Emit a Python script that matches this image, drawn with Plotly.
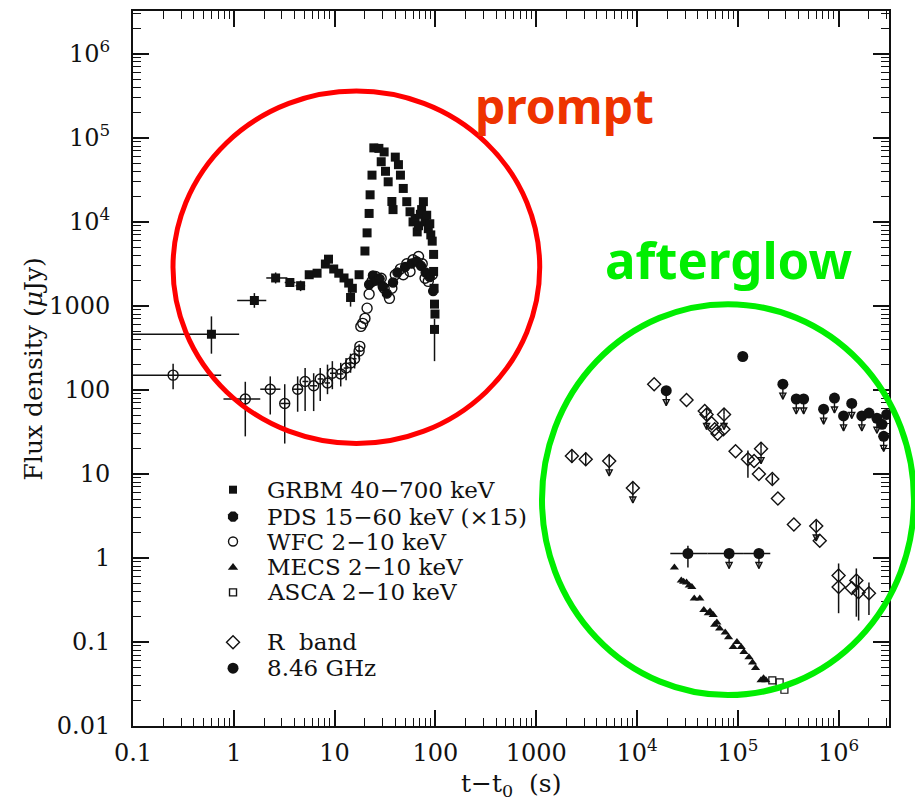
import numpy as np
import plotly.graph_objects as go

# ---------------- data (t - t0 in s, flux density in microJy) ----------------
# GRBM 40-700 keV (filled squares)
grbm_t = [5.6, 6.7, 8.1, 8.7, 9.8, 11, 12.4, 13.8, 15, 17.5,
          20, 21, 22, 22.5, 23.5, 24.5, 27.5, 31, 29, 32, 34, 37, 38, 40, 43, 45, 48, 52,
          56, 60, 63, 66, 68, 71, 73, 76, 79, 82, 85, 88, 90, 93, 96, 96, 97, 98, 99]
grbm_f = [2350, 2450, 3150, 3600, 2750, 2450, 2150, 1870, 1620, 2350,
          4500, 7400, 12600, 21000, 36000, 76000, 75000, 68000, 52000, 40000, 30000, 17500, 14000,
          59000, 48000, 36000, 25000, 17400,
          13200, 10000, 11000, 7600, 9000, 12300, 14000, 17400, 10000, 12000, 8300, 9500, 7000,
          5900, 4100, 2570, 1620, 1050, 800]
grbm_eb_t = [0.6, 1.6, 2.6, 3.6, 4.6, 14.4, 98]
grbm_eb_f = [460, 1160, 2150, 1900, 1740, 1260, 525]
grbm_eb_tlo = [0.1, 1.08, 2.1, 3.2, 4.1, 14.4, 98]
grbm_eb_thi = [1.13, 2.1, 3.4, 4.1, 5.1, 14.4, 98]
grbm_eb_flo = [270, 950, 1850, 1700, 1500, 980, 220]
grbm_eb_fhi = [750, 1420, 2500, 2150, 2000, 1500, 700]

# PDS 15-60 keV (x15) (filled circles)
pds_t = [22, 24, 26, 28, 30, 33, 38, 42, 50, 58, 65, 72, 80, 88, 95]
pds_f = [1800, 2300, 2000, 2100, 1700, 1400, 1900, 2500, 2900, 3200, 3400, 3000, 2500, 2200, 1500]
pds_ag_t = [32000, 82000, 162000]
pds_ag_f = [1.13, 1.13, 1.13]
pds_ag_tlo = [21400, 50000, 115000]
pds_ag_thi = [50000, 115000, 210000]
pds_ag_flo = [0.77, 1.13, 1.13]
pds_ag_fhi = [1.40, 1.13, 1.13]
pds_ag_ul = [0, 1, 1]

# WFC 2-10 keV (open circles)
wfc_t = [17.8, 18.2, 19, 20, 21, 22, 23.5, 25.5, 29, 31, 35, 37, 40, 45, 48, 52, 56, 60, 68, 74, 79, 85, 93]
wfc_f = [330, 570, 620, 710, 940, 1380, 1960, 2240, 2130, 1620, 1230, 1620, 2350, 2760, 2350, 3170,
         2570, 3540, 3880, 3170, 2130, 1960, 2350]
wfc_eb_t = [0.25, 1.3, 2.3, 3.2, 4.3, 5.1, 6.2, 7.2, 8.5, 9.5, 11.5, 13, 14.4, 15.8, 17.5]
wfc_eb_f = [150, 78, 102, 69, 102, 126, 112, 135, 121, 158, 155, 182, 210, 235, 290]
wfc_eb_tlo = [0.1, 0.79, 1.83, 2.9, 3.8, 4.8, 5.7, 6.8, 8.0, 9.0, 10.8, 12.3, 13.7, 15.1, 16.8]
wfc_eb_thi = [0.75, 1.83, 2.9, 3.6, 4.8, 5.5, 6.7, 7.7, 9.0, 10.2, 12.2, 13.7, 15.1, 16.5, 18.2]
wfc_eb_flo = [102, 28, 51, 23, 55, 56, 56, 74, 89, 102, 110, 130, 160, 180, 230]
wfc_eb_fhi = [205, 125, 145, 117, 145, 182, 158, 182, 200, 220, 210, 240, 270, 290, 350]

# MECS 2-10 keV (filled triangles)
mecs_t = [23500, 27500, 29000, 31000, 33000, 35000, 37000, 42000, 46000, 51000, 53000, 57000, 59000,
          62000, 66000, 75000, 81000, 90000, 98000, 108000, 115000, 129000, 140000, 150000, 170000,
          180000, 190000]
mecs_f = [0.77, 0.54, 0.52, 0.51, 0.47, 0.45, 0.33, 0.33, 0.24, 0.22, 0.23, 0.21, 0.16, 0.17, 0.145,
          0.13, 0.114, 0.087, 0.10, 0.087, 0.076, 0.066, 0.057, 0.049, 0.035, 0.037, 0.035]

# ASCA 2-10 keV (open squares)
asca_t = [220000, 260000, 290000]
asca_f = [0.035, 0.033, 0.027]

# R band (open diamonds)
r_t = [2260, 3100, 5300, 9100, 14800, 31000, 47000, 49000, 55000, 59000, 63000, 72000, 73000, 95000,
       126000, 145000, 162000, 170000, 220000, 250000, 360000, 600000, 650000, 1.0e6, 1.0e6, 1.35e6,
       1.5e6, 1.58e6, 2.0e6]
r_f = [16.4, 15, 14.3, 6.8, 117, 76, 56, 51, 40, 34, 30, 34, 51, 18.6, 15, 14.3, 10, 20, 8.7, 5.1,
       2.5, 2.4, 1.6, 0.62, 0.45, 0.44, 0.54, 0.39, 0.38]
r_flo = [13.5, 12.5, 14.3, 6.8, 117, 76, 56, 51, 40, 34, 30, 34, 51, 18.6, 9, 14.3, 10, 20, 7.5, 5.1,
         2.5, 2.4, 1.6, 0.62, 0.22, 0.44, 0.20, 0.18, 0.21]
r_fhi = [19.5, 18, 17, 8, 117, 76, 56, 60, 40, 34, 30, 34, 60, 18.6, 19, 14.3, 10, 24, 10, 5.1,
         2.5, 2.8, 1.6, 0.62, 0.86, 0.44, 0.75, 0.60, 0.51]
r_ul = [0, 0, 1, 1, 0, 0, 0, 1, 0, 0, 0, 0, 1, 0, 0, 0, 0, 1, 0, 0, 0, 1, 0, 0, 0, 0, 0, 0, 0]

# 8.46 GHz (filled circles)
radio_t = [19500, 112000, 280000, 380000, 450000, 710000, 910000, 1.12e6, 1.35e6, 1.7e6, 2.0e6,
           2.4e6, 2.7e6, 3.0e6, 2.8e6]
radio_f = [98, 250, 117, 78, 78, 59, 80, 49, 69, 49, 53, 46, 39, 51, 28]
radio_ul = [1, 0, 1, 1, 1, 1, 1, 1, 1, 1, 0, 1, 0, 0, 1]

# axis ticks
x_tickvals = [0.1, 1, 10, 100, 1000, 1e4, 1e5, 1e6]
x_ticktext = ["0.1", "1", "10", "100", "1000", "10<sup>4</sup>", "10<sup>5</sup>", "10<sup>6</sup>"]
y_tickvals = [0.01, 0.1, 1, 10, 100, 1000, 1e4, 1e5, 1e6]
y_ticktext = ["0.01", "0.1", "1", "10", "100", "1000", "10<sup>4</sup>", "10<sup>5</sup>", "10<sup>6</sup>"]

# legend
leg_labels = ["GRBM 40\u2212700 keV", "PDS 15\u221260 keV (\u00d715)", "WFC 2\u221210 keV",
              "MECS 2\u221210 keV", "ASCA 2\u221210 keV", "R\u00a0\u00a0band", "8.46 GHz"]
leg_symbols = ["square", "octagon", "circle-open", "triangle-up", "square-open", "diamond-open", "circle"]
leg_sizes = [8, 11, 9, 9, 7, 10, 11]
leg_rows = [0.3305, 0.2929, 0.2580, 0.2218, 0.1869, 0.1172, 0.0809]

# ---------------- figure ----------------
FONT = "DejaVu Serif"
BLACK = "#111111"
UL_DROP = 10 ** (-15 / 84.25)   # upper-limit arrow length: ~15 px on this y scale


def err(v, lo, hi):
    return dict(type="data", symmetric=False,
                array=[h - x for x, h in zip(v, hi)],
                arrayminus=[x - l for x, l in zip(v, lo)],
                color=BLACK, thickness=1.5, width=0)


fig = go.Figure()


def pts(x, y, symbol, size, ex=None, ey=None, lw=1.4):
    fig.add_trace(go.Scatter(
        x=x, y=y, mode="markers", showlegend=False,
        marker=dict(symbol=symbol, size=size, color=BLACK, line=dict(color=BLACK, width=lw)),
        error_x=ex, error_y=ey))


def upper_limits(t, f, ul):
    xs = [a for a, u in zip(t, ul) if u]
    ys = [b for b, u in zip(f, ul) if u]
    if not xs:
        return
    # stem from the point down to the arrow tip
    fig.add_trace(go.Scatter(
        x=xs, y=ys, mode="markers", showlegend=False, marker=dict(size=1, opacity=0),
        error_y=dict(type="data", symmetric=False, array=[0] * len(ys),
                     arrayminus=[b - b * UL_DROP for b in ys],
                     color=BLACK, thickness=1.4, width=0)))
    # arrow heads
    fig.add_trace(go.Scatter(
        x=xs, y=[b * UL_DROP for b in ys], mode="markers", showlegend=False,
        marker=dict(symbol="arrow-down-open", size=6, color=BLACK,
                    line=dict(color=BLACK, width=1.4))))


# prompt
pts(wfc_eb_t, wfc_eb_f, "circle-open", 10,
    err(wfc_eb_t, wfc_eb_tlo, wfc_eb_thi), err(wfc_eb_f, wfc_eb_flo, wfc_eb_fhi))
pts(wfc_t, wfc_f, "circle-open", 10)
pts(pds_t, pds_f, "circle", 9)
pts(grbm_t, grbm_f, "square", 9, lw=0)
pts(grbm_eb_t, grbm_eb_f, "square", 9,
    err(grbm_eb_t, grbm_eb_tlo, grbm_eb_thi), err(grbm_eb_f, grbm_eb_flo, grbm_eb_fhi), lw=0)

# afterglow
upper_limits(pds_ag_t, pds_ag_f, pds_ag_ul)
upper_limits(r_t, r_f, r_ul)
upper_limits(radio_t, radio_f, radio_ul)
pts(pds_ag_t, pds_ag_f, "circle", 11,
    err(pds_ag_t, pds_ag_tlo, pds_ag_thi), err(pds_ag_f, pds_ag_flo, pds_ag_fhi), lw=0)
pts(mecs_t, mecs_f, "triangle-up", 8, lw=0)
pts(asca_t, asca_f, "square-open", 7, lw=1.2)
pts(r_t, r_f, "diamond-open", 10, None, err(r_f, r_flo, r_fhi), lw=1.4)
pts(radio_t, radio_f, "circle", 11, lw=0)

# legend markers on an overlay (paper-like) axis pair
for sym, sz, yy in zip(leg_symbols, leg_sizes, leg_rows):
    fig.add_trace(go.Scatter(
        x=[0.1323], y=[yy], xaxis="x2", yaxis="y2", mode="markers", showlegend=False,
        marker=dict(symbol=sym, size=sz, color=BLACK,
                    line=dict(color=BLACK, width=1.4 if "open" in sym else 0))))

annotations = []
# legend text
for lab, yy in zip(leg_labels, leg_rows):
    annotations.append(dict(x=0.1746, y=yy, xref="paper", yref="paper", text=lab,
                            showarrow=False, xanchor="left", yanchor="middle",
                            font=dict(family=FONT, size=23, color=BLACK)))

# axis titles
annotations.append(dict(x=-0.132, y=0.499, xref="paper", yref="paper",
                        text="Flux density (<i>\u03bc</i>Jy)", textangle=-90, showarrow=False,
                        xanchor="center", yanchor="middle",
                        font=dict(family=FONT, size=25, color=BLACK)))
annotations.append(dict(x=0.5, y=-0.082, xref="paper", yref="paper",
                        text="t\u2212t<sub>0</sub>\u00a0\u00a0(s)", showarrow=False,
                        xanchor="center", yanchor="middle",
                        font=dict(family=FONT, size=25, color=BLACK)))

# region labels
annotations.append(dict(x=0.571, y=0.8675, xref="paper", yref="paper", text="<b>prompt</b>",
                        showarrow=False, xanchor="center", yanchor="middle",
                        font=dict(family="Noto Sans", size=48, color="#ee3300")))
annotations.append(dict(x=0.7877, y=0.6527, xref="paper", yref="paper", text="<b>afterglow</b>",
                        showarrow=False, xanchor="center", yanchor="middle",
                        font=dict(family="Noto Sans", size=51, color="#00ee00")))

shapes = [
    dict(type="circle", xref="paper", yref="paper", x0=0.0529, x1=0.538, y0=0.395, y1=0.888,
         line=dict(color="#ff0000", width=5)),
    dict(type="circle", xref="paper", yref="paper", x0=0.541, x1=1.033, y0=0.0432, y1=0.590,
         line=dict(color="#00ee00", width=6)),
]

x_minor = [m * 10.0 ** k for k in range(-1, 7) for m in range(2, 10)]
y_minor = [m * 10.0 ** k for k in range(-2, 7) for m in range(2, 10)]

axis_common = dict(type="log", showline=True, linewidth=2, linecolor=BLACK, mirror="allticks",
                   ticks="inside", ticklen=16, tickwidth=1.5, tickcolor=BLACK, showgrid=False,
                   zeroline=False, tickfont=dict(family=FONT, size=24, color=BLACK))

fig.update_layout(
    width=915, height=801, margin=dict(l=133, r=26, t=9, b=75, pad=0),
    paper_bgcolor="white", plot_bgcolor="white", showlegend=False,
    xaxis=dict(range=[-1, 6.5], tickmode="array", tickvals=x_tickvals, ticktext=x_ticktext,
               ticklabelstandoff=4,
               minor=dict(tickmode="array", tickvals=x_minor, ticks="inside", ticklen=8,
                          tickwidth=1.3, tickcolor=BLACK, showgrid=False),
               **axis_common),
    yaxis=dict(range=[-2, 6.51], tickmode="array", tickvals=y_tickvals, ticktext=y_ticktext,
               ticklabelstandoff=16,
               minor=dict(tickmode="array", tickvals=y_minor, ticks="inside", ticklen=8,
                          tickwidth=1.3, tickcolor=BLACK, showgrid=False),
               **axis_common),
    xaxis2=dict(overlaying="x", anchor="y2", range=[0, 1], visible=False),
    yaxis2=dict(overlaying="y", anchor="x2", range=[0, 1], visible=False),
    annotations=annotations, shapes=shapes,
)

fig.write_html("out.html")
